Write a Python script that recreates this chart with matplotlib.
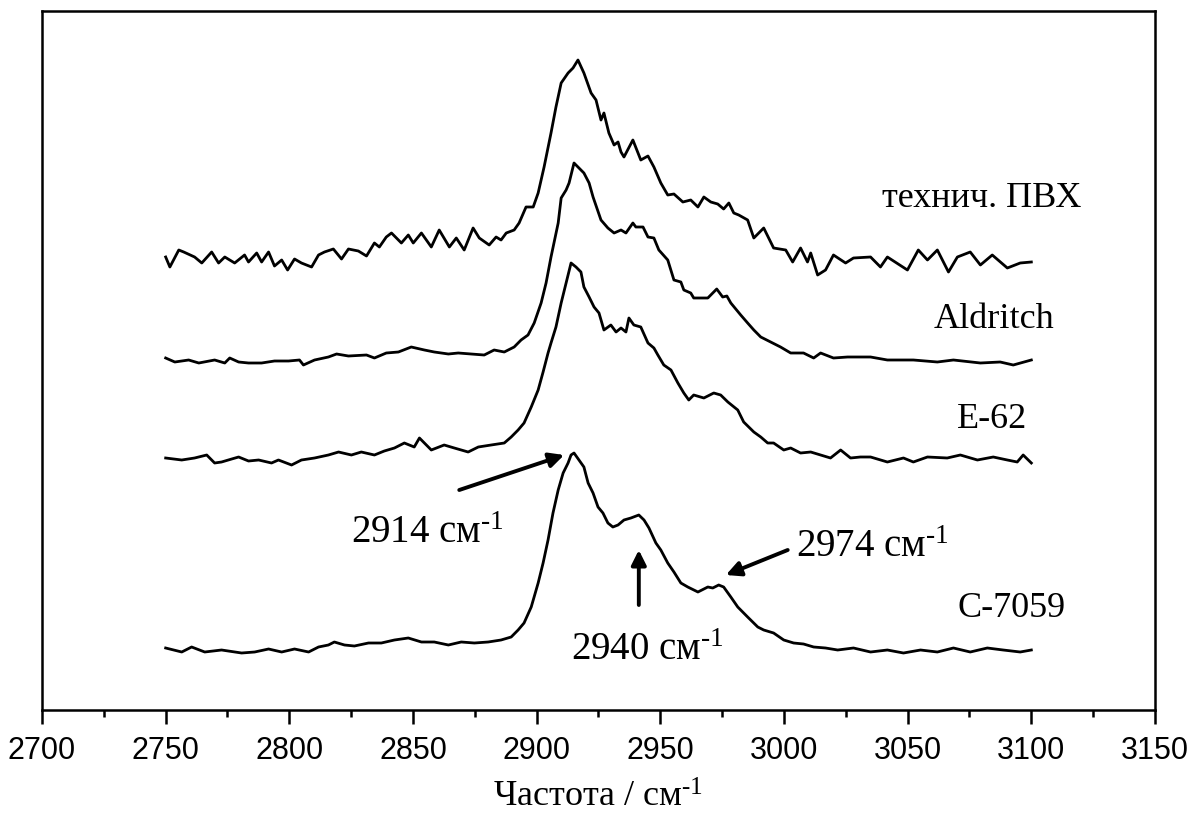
import matplotlib
matplotlib.use("Agg")
import matplotlib.pyplot as plt
from matplotlib.ticker import MultipleLocator

# Raman spectra in the C-H stretching region (arb. units), stacked with offsets.
wn_tech = [2750.0, 2751.7, 2755.3, 2757.3, 2761.7, 2764.6, 2768.6, 2771.4, 2773.9, 2777.9,
           2781.9, 2783.5, 2786.8, 2788.8, 2791.6, 2794.0, 2796.9, 2799.3, 2802.1, 2804.9,
           2809.0, 2811.8, 2814.2, 2817.8, 2821.1, 2823.9, 2827.9, 2831.2, 2834.4, 2836.4,
           2839.2, 2841.3, 2845.3, 2848.1, 2850.1, 2853.4, 2857.4, 2860.6, 2864.7, 2867.5,
           2870.7, 2874.3, 2876.8, 2880.8, 2883.6, 2885.6, 2887.7, 2890.9, 2892.9, 2895.7,
           2898.6, 2900.6, 2903.0, 2905.8, 2907.8, 2909.9, 2912.7, 2914.7, 2916.7, 2919.1,
           2922.0, 2924.0, 2926.0, 2927.2, 2929.2, 2931.3, 2932.9, 2934.1, 2935.3, 2938.9,
           2942.1, 2945.0, 2947.4, 2950.2, 2953.0, 2955.5, 2959.1, 2962.3, 2965.2, 2967.6,
           2970.4, 2973.2, 2975.6, 2977.7, 2979.7, 2981.7, 2985.3, 2987.8, 2991.8, 2995.8,
           3000.7, 3003.5, 3006.7, 3009.5, 3010.8, 3013.6, 3016.8, 3020.0, 3024.9, 3028.1,
           3035.0, 3039.0, 3041.8, 3049.9, 3054.3, 3058.0, 3062.0, 3066.5, 3070.1, 3075.3,
           3079.4, 3084.2, 3090.3, 3095.5, 3100.0]
int_tech = [0.05, -0.05, 0.12, 0.10, 0.05, -0.01, 0.10, -0.01, 0.05, -0.01,
            0.07, 0.00, 0.09, 0.00, 0.10, -0.04, 0.02, -0.08, 0.03, -0.01,
            -0.05, 0.07, 0.10, 0.13, 0.03, 0.13, 0.11, 0.06, 0.19, 0.15,
            0.25, 0.29, 0.19, 0.27, 0.19, 0.29, 0.15, 0.32, 0.15, 0.24,
            0.12, 0.34, 0.24, 0.17, 0.25, 0.22, 0.29, 0.32, 0.39, 0.55,
            0.55, 0.69, 0.95, 1.29, 1.55, 1.79, 1.89, 1.94, 2.02, 1.89,
            1.69, 1.62, 1.42, 1.49, 1.29, 1.17, 1.20, 1.10, 1.05, 1.22,
            1.02, 1.06, 0.95, 0.79, 0.67, 0.68, 0.60, 0.62, 0.55, 0.65,
            0.60, 0.58, 0.53, 0.59, 0.49, 0.47, 0.42, 0.24, 0.34, 0.14,
            0.12, 0.00, 0.14, 0.00, 0.09, -0.13, -0.08, 0.07, -0.01, 0.04,
            0.05, -0.05, 0.05, -0.08, 0.12, 0.02, 0.12, -0.10, 0.05, 0.10,
            -0.03, 0.07, -0.06, -0.01, 0.00]

wn_ald = [2750.0, 2753.7, 2759.3, 2763.4, 2769.8, 2773.9, 2775.9, 2779.5, 2783.5, 2788.8,
          2794.0, 2799.7, 2804.1, 2805.7, 2810.2, 2815.8, 2819.1, 2823.9, 2831.2, 2834.4,
          2839.2, 2844.1, 2849.3, 2854.6, 2858.6, 2864.3, 2868.3, 2873.5, 2878.8, 2882.8,
          2886.9, 2890.9, 2893.7, 2896.5, 2899.0, 2901.8, 2903.8, 2905.8, 2908.7, 2909.9,
          2911.9, 2913.1, 2915.1, 2917.1, 2919.1, 2921.2, 2922.8, 2926.0, 2928.8, 2931.3,
          2934.1, 2936.1, 2938.9, 2940.1, 2943.0, 2945.0, 2947.4, 2949.4, 2953.0, 2955.5,
          2958.3, 2959.5, 2962.3, 2963.5, 2969.2, 2972.8, 2975.2, 2976.9, 2978.5, 2982.5,
          2985.3, 2987.8, 2990.6, 2994.6, 2998.6, 3002.7, 3007.9, 3012.0, 3014.8, 3020.0,
          3025.7, 3035.0, 3041.8, 3052.3, 3062.0, 3068.5, 3079.4, 3087.4, 3092.7, 3100.0]
int_ald = [0.02, -0.02, 0.00, -0.03, 0.00, -0.03, 0.02, -0.02, -0.03, -0.03,
           -0.01, -0.01, 0.00, -0.05, 0.00, 0.03, 0.06, 0.04, 0.05, 0.02,
           0.07, 0.08, 0.13, 0.10, 0.08, 0.06, 0.07, 0.06, 0.05, 0.10,
           0.08, 0.13, 0.20, 0.25, 0.37, 0.57, 0.77, 1.03, 1.37, 1.62,
           1.70, 1.77, 1.97, 1.92, 1.87, 1.77, 1.63, 1.40, 1.32, 1.27,
           1.30, 1.27, 1.37, 1.33, 1.33, 1.23, 1.22, 1.10, 1.00, 0.80,
           0.78, 0.70, 0.67, 0.62, 0.62, 0.71, 0.63, 0.64, 0.57, 0.45,
           0.37, 0.30, 0.23, 0.18, 0.13, 0.07, 0.07, 0.02, 0.07, 0.02,
           0.03, 0.03, 0.00, 0.00, -0.02, 0.00, -0.03, -0.02, -0.05, 0.00]

wn_e62 = [2750.0, 2756.5, 2761.7, 2766.6, 2769.8, 2772.6, 2776.7, 2779.5, 2783.5, 2787.6,
          2792.8, 2795.6, 2800.9, 2804.9, 2810.2, 2815.8, 2819.9, 2825.1, 2829.1, 2834.4,
          2838.4, 2842.5, 2846.5, 2850.5, 2852.6, 2857.4, 2862.6, 2866.7, 2872.3, 2876.4,
          2881.6, 2886.9, 2889.7, 2892.5, 2894.9, 2897.8, 2900.6, 2902.6, 2904.6, 2905.8,
          2907.8, 2909.9, 2911.9, 2913.9, 2915.9, 2917.9, 2919.1, 2921.2, 2923.2, 2925.2,
          2927.2, 2930.0, 2932.1, 2934.1, 2936.1, 2937.3, 2939.3, 2942.1, 2945.0, 2947.4,
          2949.0, 2951.4, 2954.3, 2957.1, 2959.5, 2961.5, 2963.5, 2967.6, 2971.6, 2974.4,
          2977.3, 2981.3, 2983.7, 2987.8, 2990.6, 2993.4, 2995.8, 2999.9, 3002.7, 3006.7,
          3010.8, 3014.8, 3018.8, 3022.9, 3026.9, 3030.9, 3035.0, 3041.8, 3048.3, 3052.3,
          3058.0, 3066.0, 3071.3, 3078.2, 3084.6, 3090.3, 3094.3, 3096.7, 3100.0]
int_e62 = [0.02, 0.00, 0.02, 0.05, -0.03, -0.02, 0.01, 0.03, -0.01, 0.00,
           -0.03, 0.00, -0.05, 0.00, 0.02, 0.05, 0.08, 0.05, 0.08, 0.05,
           0.09, 0.12, 0.17, 0.13, 0.22, 0.10, 0.15, 0.12, 0.08, 0.13,
           0.15, 0.17, 0.23, 0.30, 0.37, 0.53, 0.70, 0.88, 1.07, 1.17,
           1.33, 1.57, 1.77, 1.97, 1.93, 1.88, 1.73, 1.63, 1.53, 1.47,
           1.30, 1.35, 1.28, 1.32, 1.28, 1.42, 1.35, 1.33, 1.17, 1.12,
           1.05, 0.95, 0.90, 0.77, 0.67, 0.60, 0.65, 0.62, 0.67, 0.65,
           0.58, 0.50, 0.38, 0.28, 0.23, 0.17, 0.17, 0.10, 0.12, 0.07,
           0.08, 0.05, 0.02, 0.10, 0.02, 0.03, 0.03, -0.02, 0.02, -0.02,
           0.03, 0.02, 0.05, 0.00, 0.03, 0.00, -0.02, 0.05, -0.03]

wn_c7059 = [2750.0, 2756.5, 2760.5, 2765.8, 2772.6, 2780.7, 2786.0, 2791.6, 2796.9, 2802.1,
            2807.8, 2811.8, 2815.8, 2818.2, 2822.3, 2826.3, 2832.0, 2837.2, 2842.5, 2848.1,
            2853.4, 2858.6, 2864.3, 2869.5, 2874.8, 2880.4, 2885.6, 2889.7, 2892.5, 2894.9,
            2897.8, 2900.6, 2902.6, 2904.6, 2906.6, 2908.7, 2910.7, 2912.7, 2913.9, 2915.1,
            2917.1, 2919.1, 2920.8, 2922.8, 2924.8, 2926.8, 2928.8, 2930.8, 2932.9, 2935.3,
            2938.1, 2941.3, 2943.4, 2945.4, 2948.2, 2950.2, 2953.0, 2955.5, 2958.3, 2961.1,
            2965.2, 2969.2, 2971.2, 2973.6, 2975.6, 2978.5, 2981.3, 2985.3, 2989.4, 2991.8,
            2995.8, 2999.9, 3003.9, 3007.9, 3012.0, 3016.8, 3021.7, 3028.1, 3035.0, 3041.8,
            3048.3, 3055.2, 3062.0, 3068.5, 3075.3, 3082.2, 3088.6, 3095.5, 3100.0]
int_c7059 = [0.02, -0.02, 0.03, -0.02, 0.00, -0.03, -0.02, 0.01, -0.02, 0.01,
             -0.02, 0.03, 0.05, 0.08, 0.05, 0.04, 0.07, 0.07, 0.10, 0.12,
             0.08, 0.08, 0.05, 0.08, 0.07, 0.08, 0.10, 0.13, 0.20, 0.27,
             0.43, 0.67, 0.87, 1.10, 1.37, 1.60, 1.77, 1.87, 1.95, 1.97,
             1.90, 1.83, 1.67, 1.57, 1.43, 1.37, 1.27, 1.23, 1.25, 1.30,
             1.32, 1.35, 1.30, 1.22, 1.07, 1.00, 0.87, 0.78, 0.67, 0.63,
             0.58, 0.63, 0.62, 0.65, 0.63, 0.53, 0.43, 0.33, 0.23, 0.20,
             0.17, 0.10, 0.07, 0.06, 0.03, 0.02, 0.00, 0.02, -0.02, 0.00,
             -0.03, 0.00, -0.02, 0.02, -0.02, 0.02, 0.00, -0.02, 0.00]

sample_names = ["технич. ПВХ", "Aldritch", "E-62", "C-7059"]
offsets = [4.48, 3.50, 2.50, 0.60]
# label anchor (left edge, baseline) for every spectrum
name_x = [3039.8, 3060.4, 3070.1, 3070.1]
name_y = [5.03, 3.82, 2.82, 0.93]

peak_labels = ["2914", "2940", "2974"]
peak_text_xy = [(2825.1, 1.67), (2913.9, 0.50), (3004.7, 1.53)]
arrow_tail = [(2868.7, 2.20), (2941.3, 1.05), (3001.5, 1.60)]
arrow_head = [(2911.1, 2.55), (2941.3, 1.60), (2976.5, 1.35)]

# "-1" superscript written with a real hyphen (U+2010), as in the original
inv_cm = "см$^{\u20101}$"

plt.rcParams["font.family"] = ["Liberation Serif", "DejaVu Serif"]
plt.rcParams["mathtext.fontset"] = "custom"
plt.rcParams["mathtext.rm"] = "Liberation Serif"
plt.rcParams["mathtext.it"] = "Liberation Serif:italic"

fig = plt.figure(figsize=(11.88, 8.18), dpi=100)
ax = fig.add_axes([42 / 1188, 108 / 818, 1113 / 1188, 699 / 818])

spectra = [(wn_tech, int_tech), (wn_ald, int_ald), (wn_e62, int_e62), (wn_c7059, int_c7059)]
for (wn, inten), off in zip(spectra, offsets):
    ax.plot(wn, [v + off for v in inten], color="black", lw=2.0, solid_joinstyle="round")

for name, x, y in zip(sample_names, name_x, name_y):
    ax.text(x, y, name, fontsize=26, ha="left", va="baseline")

for lab, (tx, ty), tail, head in zip(peak_labels, peak_text_xy, arrow_tail, arrow_head):
    ax.text(tx, ty, lab + " " + inv_cm, fontsize=28, ha="left", va="baseline")
    ax.annotate("", xy=head, xytext=tail,
                arrowprops=dict(arrowstyle="-|>", color="black", lw=2.8,
                                mutation_scale=22, shrinkA=0, shrinkB=0))

ax.set_xlim(2700, 3150)
ax.set_ylim(0, 6.99)
ax.xaxis.set_major_locator(MultipleLocator(50))
ax.xaxis.set_minor_locator(MultipleLocator(25))
ax.set_yticks([])
ax.tick_params(axis="x", which="major", direction="out", length=10, width=1.8, pad=9,
               labelsize=22, top=False)
ax.tick_params(axis="x", which="minor", direction="out", length=5, width=1.8, top=False)
for lbl in ax.get_xticklabels():
    lbl.set_family(["Liberation Sans", "DejaVu Sans"])
for sp in ax.spines.values():
    sp.set_linewidth(1.8)

fig.text(598 / 1188, 11 / 818, "Частота / " + inv_cm, fontsize=26, ha="center", va="baseline")

fig.savefig("out.png", dpi=100)
